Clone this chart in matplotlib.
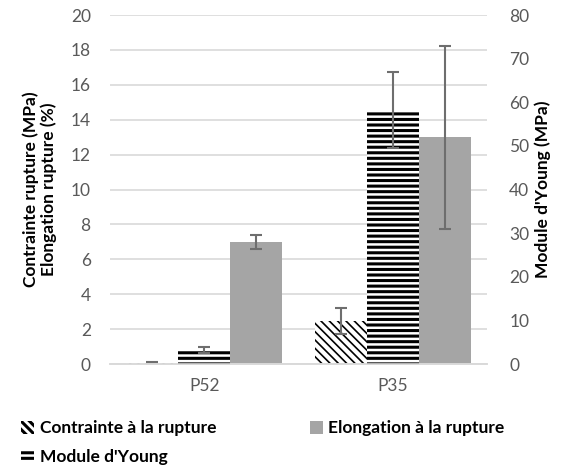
import numpy as np
import matplotlib
matplotlib.use('Agg')
import matplotlib.pyplot as plt

plt.rcParams['font.family'] = ['Lato', 'DejaVu Sans']

categories = ['P52', 'P35']
contrainte = [0.08, 2.48]
contrainte_err = [0.05, 0.75]
young = [3.2, 58.2]
young_err = [0.6, 8.7]
elongation = [7.0, 13.0]
elongation_err = [0.4, 5.25]

x = np.arange(len(categories))
w = 0.276
grey_txt = '#595959'
fs = 12.5
err_kw = dict(ecolor='#6e6e6e', elinewidth=1.5, capsize=4.5, capthick=1.5)

fig = plt.figure(figsize=(5.65, 4.70), dpi=100)
ax = fig.add_axes([0.195, 0.2255, 0.667, 0.7425])
ax2 = ax.twinx()

plt.rcParams['hatch.linewidth'] = 1.2
b1 = ax.bar(x - w, contrainte, w, yerr=contrainte_err, color='white',
	edgecolor='black', hatch='\\\\\\\\', linewidth=0, error_kw=err_kw,
	label='Contrainte à la rupture', zorder=2)
b3 = ax.bar(x + w, elongation, w, yerr=elongation_err, color='#a5a5a5',
	error_kw=err_kw, label='Elongation à la rupture', zorder=2)
plt.rcParams['hatch.linewidth'] = 2.2
b2 = ax2.bar(x, young, w, yerr=young_err, color='white', edgecolor='black',
	hatch='---', linewidth=0, error_kw=err_kw, label="Module d'Young", zorder=2)

for p in b1:
	if hasattr(p, 'set_hatch_linewidth'):
		p.set_hatch_linewidth(1.2)
for p in b2:
	if hasattr(p, 'set_hatch_linewidth'):
		p.set_hatch_linewidth(2.2)

ax.set_xlim(-0.5, 1.5)
ax.set_ylim(0, 20)
ax.set_yticks(np.arange(0, 21, 2))
ax2.set_ylim(0, 80)
ax2.set_yticks(np.arange(0, 81, 10))
ax.set_xticks(x)
ax.set_xticklabels(categories)

ax.grid(axis='y', color='#d9d9d9', linewidth=1.2, zorder=0)
ax.set_axisbelow(True)
for a in (ax, ax2):
	for s in ['top', 'left', 'right']:
		a.spines[s].set_visible(False)
	a.spines['bottom'].set_color('#d9d9d9')
	a.spines['bottom'].set_linewidth(1.2)
	a.tick_params(length=0, labelsize=fs, labelcolor=grey_txt, pad=8)
ax.tick_params(axis='y', pad=14)
ax2.tick_params(axis='y', pad=16)
ax.tick_params(axis='x', pad=10)

ax.set_ylabel('Contrainte rupture (MPa)\nElongation rupture (%)',
	fontsize=fs, fontweight='bold', labelpad=10, linespacing=1.1)
ax2.set_ylabel("Module d'Young (MPa)", fontsize=fs, fontweight='bold', labelpad=4)

fig.legend([b1, b2, b3],
	['Contrainte à la rupture', "Module d'Young", 'Elongation à la rupture'],
	ncol=2, loc='lower left', bbox_to_anchor=(0.01, -0.022), frameon=False,
	prop={'size': fs, 'weight': 'bold'}, handlelength=0.75, handleheight=0.75,
	handletextpad=0.3, columnspacing=5.4, labelspacing=0.72)

fig.savefig('out.png', dpi=100)
